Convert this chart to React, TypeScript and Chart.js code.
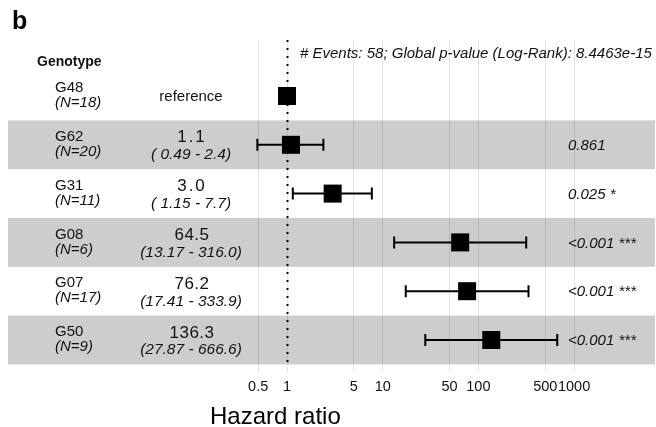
import React, { useEffect, useRef } from "react";
import { Chart, registerables } from "chart.js";

Chart.register(...registerables);

const genotypes = ["G48", "G62", "G31", "G08", "G07", "G50"];
const nCounts = [18, 20, 11, 6, 17, 9];
const hazardRatios = [1, 1.1, 3.0, 64.5, 76.2, 136.3];
const ciLow: (number | null)[] = [null, 0.49, 1.15, 13.17, 17.41, 27.87];
const ciHigh: (number | null)[] = [null, 2.4, 7.7, 316.0, 333.9, 666.6];
const estLabels = ["reference", "1.1", "3.0", "64.5", "76.2", "136.3"];
const ciLabels = ["", "( 0.49 - 2.4)", "( 1.15 - 7.7)", "(13.17 - 316.0)", "(17.41 - 333.9)", "(27.87 - 666.6)"];
const pLabels = ["", "0.861", "0.025 *", "<0.001 ***", "<0.001 ***", "<0.001 ***"];
const xTicks = [0.5, 1, 5, 10, 50, 100, 500, 1000];
const headerText = "# Events: 58; Global p-value (Log-Rank): 8.4463e-15";
const panelLetter = "b";
const columnTitle = "Genotype";
const axisTitle = "Hazard ratio";

const FONT = "'Liberation Sans', Arial, Helvetica, sans-serif";

const forestPlugin = {
  id: "forest",
  beforeDraw(chart: any) {
    const { ctx, chartArea, scales } = chart;
    const y = scales.y;
    ctx.save();
    ctx.fillStyle = "#cdcdcd";
    genotypes.forEach((_, i) => {
      if (i % 2 === 1) {
        const t = y.getPixelForValue(i - 0.5);
        const b = y.getPixelForValue(i + 0.5);
        ctx.fillRect(chartArea.left, Math.min(t, b), chartArea.right - chartArea.left, Math.abs(b - t));
      }
    });
    ctx.restore();
  },
  beforeDatasetsDraw(chart: any) {
    const { ctx, chartArea, scales } = chart;
    const x = scales.x;
    const y = scales.y;
    ctx.save();
    const x1 = Math.round(x.getPixelForValue(1)) + 0.5;
    ctx.strokeStyle = "#000";
    ctx.lineWidth = 2;
    ctx.setLineDash([2, 6]);
    ctx.beginPath();
    ctx.moveTo(x1, chartArea.top);
    ctx.lineTo(x1, chartArea.bottom - 8);
    ctx.stroke();
    ctx.setLineDash([]);
    ctx.lineWidth = 2;
    genotypes.forEach((_, i) => {
      const lo = ciLow[i];
      const hi = ciHigh[i];
      if (lo == null || hi == null) return;
      const py = y.getPixelForValue(i);
      const xl = x.getPixelForValue(lo);
      const xh = x.getPixelForValue(hi);
      ctx.beginPath();
      ctx.moveTo(xl, py);
      ctx.lineTo(xh, py);
      ctx.moveTo(xl, py - 6);
      ctx.lineTo(xl, py + 6);
      ctx.moveTo(xh, py - 6);
      ctx.lineTo(xh, py + 6);
      ctx.stroke();
    });
    ctx.restore();
  },
  afterDraw(chart: any) {
    const { ctx, scales } = chart;
    const y = scales.y;
    ctx.save();
    ctx.fillStyle = "#111";
    ctx.textBaseline = "middle";

    ctx.textAlign = "left";
    ctx.font = `bold 25px ${FONT}`;
    ctx.fillStyle = "#000";
    ctx.fillText(panelLetter, 12, 22);

    ctx.font = `bold 14px ${FONT}`;
    ctx.fillStyle = "#111";
    ctx.fillText(columnTitle, 37, 62);

    ctx.font = `italic 15px ${FONT}`;
    ctx.fillText(headerText, 300, 54);

    genotypes.forEach((g, i) => {
      const py = y.getPixelForValue(i);
      ctx.textAlign = "left";
      ctx.font = `15px ${FONT}`;
      ctx.fillText(g, 55, py - 8);
      ctx.font = `italic 15px ${FONT}`;
      ctx.fillText(`(N=${nCounts[i]})`, 55, py + 7);

      ctx.textAlign = "center";
      if (ciLabels[i] === "") {
        ctx.font = `15px ${FONT}`;
        ctx.fillText(estLabels[i], 191, py + 1);
      } else {
        ctx.font = `17px ${FONT}`;
        (ctx as any).letterSpacing = estLabels[i].length <= 3 ? "2px" : "0.5px";
        ctx.fillText(estLabels[i], 192, py - 7);
        (ctx as any).letterSpacing = "0px";
        ctx.font = `italic 15.5px ${FONT}`;
        ctx.fillText(ciLabels[i], 191, py + 10);
      }

      if (pLabels[i]) {
        ctx.textAlign = "left";
        ctx.font = `italic 15px ${FONT}`;
        ctx.fillText(pLabels[i], 568, py + 1);
      }
    });

    ctx.textAlign = "left";
    ctx.font = `24px ${FONT}`;
    ctx.fillStyle = "#000";
    ctx.fillText(axisTitle, 210, 417);
    ctx.restore();
  },
};

export default function App() {
  const canvasRef = useRef<HTMLCanvasElement | null>(null);

  useEffect(() => {
    if (!canvasRef.current) return;
    const chart = new Chart(canvasRef.current, {
      type: "scatter",
      data: {
        datasets: [
          {
            data: hazardRatios.map((v, i) => ({ x: v, y: i })),
            pointStyle: "rect",
            pointRadius: 12.73,
            pointHoverRadius: 12.73,
            pointBackgroundColor: "#000",
            pointBorderWidth: 0,
            borderWidth: 0,
          },
        ],
      },
      options: {
        animation: false,
        responsive: false,
        devicePixelRatio: 1,
        layout: { autoPadding: false, padding: { top: 40, left: 8, right: 1, bottom: 0 } },
        plugins: { legend: { display: false }, tooltip: { enabled: false } },
        scales: {
          x: {
            type: "logarithmic",
            min: 0.001215,
            max: 7004,
            border: { display: false },
            grid: { color: "rgba(0,0,0,0.11)", lineWidth: 1, drawTicks: false },
            afterBuildTicks: (scale: any) => {
              scale.ticks = xTicks.map((v) => ({ value: v }));
            },
            afterFit: (scale: any) => {
              scale.height = 55;
            },
            ticks: {
              autoSkip: false,
              maxRotation: 0,
              padding: 6,
              color: "#111",
              font: { family: FONT, size: 14.5 },
              callback: (v: any) => String(v),
            },
          },
          y: {
            type: "linear",
            display: false,
            reverse: true,
            min: -1.1475,
            max: 5.6557,
          },
        },
      },
      plugins: [forestPlugin],
    });
    return () => chart.destroy();
  }, []);

  return (
    <div style={{ position: "absolute", left: 0, top: 0, width: 656, height: 427, background: "#fff" }}>
      <canvas ref={canvasRef} width={656} height={427} style={{ width: 656, height: 427 }} />
    </div>
  );
}
